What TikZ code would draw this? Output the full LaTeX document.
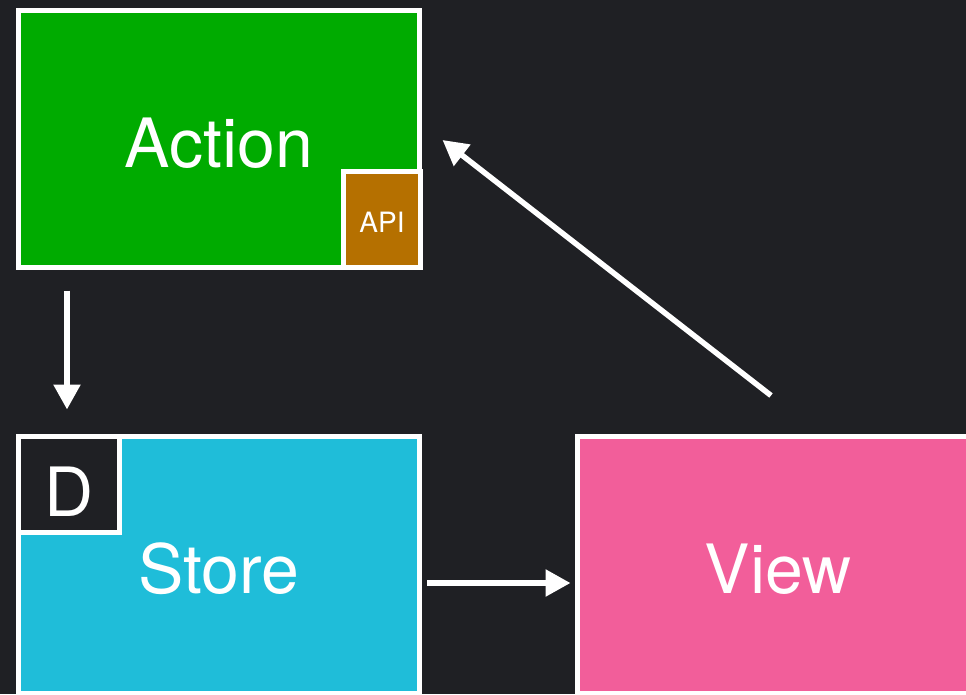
\documentclass[tikz,border=0pt]{standalone}
\usepackage{fontspec}
\setmainfont{TeX Gyre Heros}
\usepackage{xcolor}
\usepackage{tikz}
\usetikzlibrary{arrows.meta}
\definecolor{bg}{HTML}{1F2024}
\definecolor{actgreen}{HTML}{00AB00}
\definecolor{storecyan}{HTML}{1FBDD9}
\definecolor{viewpink}{HTML}{F25E9A}
\definecolor{apibrown}{HTML}{B57000}

\begin{document}
\begin{tikzpicture}[x=1pt,y=-1pt,
    box/.style={draw=white,line width=5pt,text=white,inner sep=0pt},
    big/.style={box,minimum width=401pt,minimum height=257pt,font=\fontsize{68}{68}\selectfont,text height=56pt,text depth=0pt},
    arr/.style={white,line width=5.5pt,-{Triangle[length=25pt,width=26pt]}}]
    \fill[bg] (0,0) rectangle (966,694);
    \useasboundingbox (0,0) rectangle (966,694);

    \node[big,fill=actgreen] (action) at (219,139) {Action};
    \node[box,fill=apibrown,minimum width=77pt,minimum height=96pt,font=\fontsize{28}{28}\selectfont,text height=25pt,text depth=0pt] (api) at (382,219.5) {API};
    \node[big,fill=storecyan] (store) at (219,565) {Store};
    \node[box,fill=bg,minimum width=101pt,minimum height=96pt,font=\fontsize{68}{68}\selectfont,text height=64pt,text depth=0pt] (d) at (69,484.5) {D};
    \node[big,fill=viewpink] (view) at (778,565) {View};

    \draw[arr] ([xshift=51pt,yshift=-20.5pt]action.south west) -- ([xshift=51pt,yshift=24.5pt]store.north west);
    \draw[arr] ([xshift=5pt,yshift=-18pt]store.east) -- ([xshift=-4.5pt,yshift=-18pt]view.west);
    \draw[arr] ([xshift=-7pt,yshift=38.5pt]view.north) -- ([xshift=20.5pt,yshift=-1pt]action.east);
  \end{tikzpicture}
\end{document}
